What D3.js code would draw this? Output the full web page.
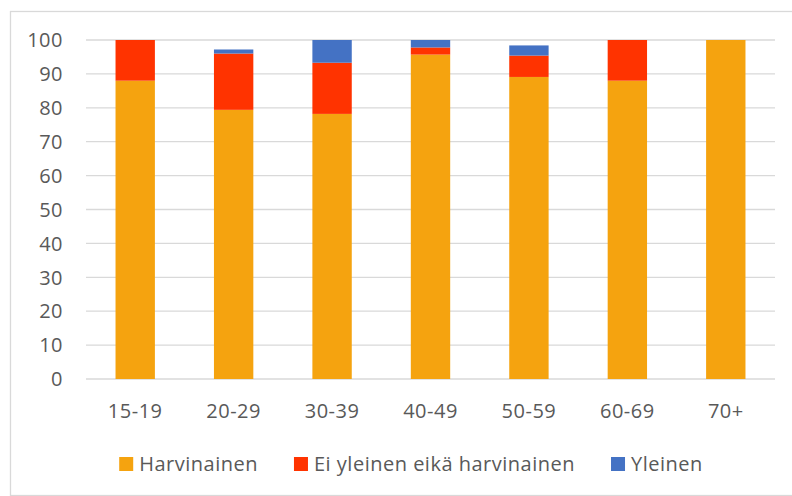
<!DOCTYPE html>
<html>
<head>
<meta charset="utf-8">
<script src="https://cdn.jsdelivr.net/npm/d3@7"></script>
<style>
  body { margin: 0; background: #fff; }
  text { font-family: "Open Sans", "Liberation Sans", sans-serif; fill: #595959; letter-spacing: 0.5px; }
</style>
</head>
<body>
<div id="chart"></div>
<script>
var ageGroups = ["15-19", "20-29", "30-39", "40-49", "50-59", "60-69", "70+"];
var seriesNames = ["Harvinainen", "Ei yleinen eikä harvinainen", "Yleinen"];
var harvinainen = [88, 79.4, 78.2, 95.7, 89.1, 88, 100];
var eiKumpikaan = [12, 16.6, 15.1, 2.1, 6.3, 12, 0];
var yleinen = [0, 1.2, 6.7, 2.2, 3.0, 0, 0];
var yTicks = [0, 10, 20, 30, 40, 50, 60, 70, 80, 90, 100];
var colors = ["#f5a30f", "#ff3300", "#4472c4"];

var width = 792, height = 496;

var rows = ageGroups.map(function(g, i) {
    return {group: g, harv: harvinainen[i], ei: eiKumpikaan[i], yl: yleinen[i]};
});

var svg = d3.select("#chart").append("svg")
    .attr("width", width)
    .attr("height", height);

// chart frame
svg.append("rect")
    .attr("x", 10.5).attr("y", 11.5)
    .attr("width", 800).attr("height", 484)
    .attr("fill", "none")
    .attr("stroke", "#d9d9d9")
    .attr("stroke-width", 1.3);

var x = d3.scaleBand()
    .domain(ageGroups)
    .range([86, 775])
    .paddingInner(0.6)
    .paddingOuter(0.3);

var y = d3.scaleLinear()
    .domain([0, 100])
    .range([379, 40]);

// gridlines
svg.append("g").selectAll("line")
    .data(yTicks)
    .enter().append("line")
    .attr("x1", 86).attr("x2", 775)
    .attr("y1", d => y(d)).attr("y2", d => y(d))
    .attr("stroke", "#d9d9d9")
    .attr("stroke-width", 1.3);

// y labels
svg.append("g").selectAll("text")
    .data(yTicks)
    .enter().append("text")
    .attr("x", 63)
    .attr("y", d => y(d))
    .attr("dy", "0.36em")
    .attr("text-anchor", "end")
    .style("font-size", "20px")
    .text(d => d);

var stack = d3.stack().keys(["harv", "ei", "yl"]);
var layers = stack(rows);

svg.append("g").selectAll("g")
    .data(layers)
    .enter().append("g")
    .attr("fill", (d, i) => colors[i])
    .selectAll("rect")
    .data(d => d)
    .enter().append("rect")
    .attr("x", d => x(d.data.group))
    .attr("width", x.bandwidth())
    .attr("y", d => y(d[1]))
    .attr("height", d => y(d[0]) - y(d[1]));

// x labels
svg.append("g").selectAll("text")
    .data(ageGroups)
    .enter().append("text")
    .attr("x", d => x(d) + x.bandwidth() / 2)
    .attr("y", 418)
    .attr("text-anchor", "middle")
    .style("font-size", "20px")
    .text(d => d);

// legend
var legend = svg.append("g");
var items = legend.selectAll("g")
    .data(seriesNames)
    .enter().append("g");
items.append("rect")
    .attr("width", 14).attr("height", 14)
    .attr("y", 457)
    .attr("fill", (d, i) => colors[i]);
items.append("text")
    .attr("x", 20)
    .attr("y", 471)
    .style("font-size", "20px")
    .text(d => d);

var offs = [], pos = 0;
items.each(function() {
    var w = 20 + d3.select(this).select("text").node().getComputedTextLength();
    offs.push(pos);
    pos += w + 36;
});
var total = pos - 36;
var start = 411 - total / 2;
items.attr("transform", (d, i) => "translate(" + (start + offs[i]) + ",0)");
</script>
</body>
</html>
